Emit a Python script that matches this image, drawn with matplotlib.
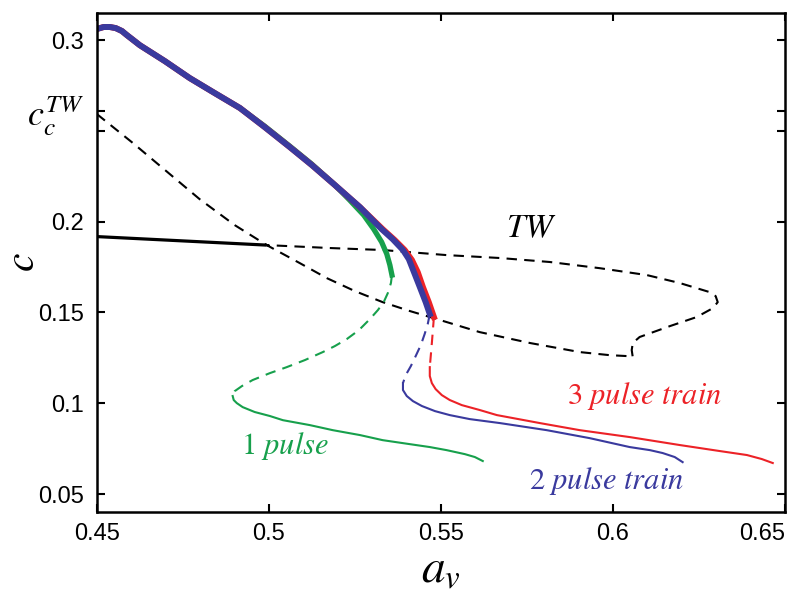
import numpy as np
import matplotlib
matplotlib.use("Agg")
import matplotlib.pyplot as plt

# ---------------------------------------------------------------
# data (a_v, c)
# ---------------------------------------------------------------

# TW branch: stable (solid) part
tw_stable_a = [0.4500, 0.4994]
tw_stable_c = [0.1918, 0.1871]

# TW branch: unstable (dashed) part, from c_c^TW round the loop and back
tw_unstable_a = [0.4500, 0.4605, 0.4799, 0.4901, 0.4994, 0.5090, 0.5169, 0.5250,
                 0.5331, 0.5410, 0.5488, 0.5613, 0.5759, 0.5904, 0.5991, 0.6041,
                 0.6058, 0.6055, 0.6058, 0.6078, 0.6166, 0.6244, 0.6291, 0.6305,
                 0.6299, 0.6282, 0.6195, 0.6099, 0.5962, 0.5817, 0.5672, 0.5517,
                 0.5331, 0.5177, 0.5052, 0.4994]
tw_unstable_c = [0.2593, 0.2433, 0.2124, 0.1981, 0.1871, 0.1772, 0.1689, 0.1618,
                 0.1557, 0.1508, 0.1464, 0.1392, 0.1332, 0.1282, 0.1265, 0.1260,
                 0.1254, 0.1293, 0.1332, 0.1365, 0.1425, 0.1475, 0.1524, 0.1557,
                 0.1590, 0.1612, 0.1662, 0.1706, 0.1744, 0.1778, 0.1800, 0.1816,
                 0.1844, 0.1855, 0.1866, 0.1871]

# shared top part of the three thick (stable) branches
top_a = [0.4500, 0.4520, 0.4538, 0.4555, 0.4573, 0.4587, 0.4602, 0.4625,
         0.4698, 0.4770, 0.4843, 0.4916]
top_c = [0.3061, 0.3072, 0.3072, 0.3066, 0.3050, 0.3028, 0.3006, 0.2972,
         0.2884, 0.2791, 0.2708, 0.2626]

# 1 pulse
p1_thick_a = top_a + [0.4988, 0.5061, 0.5125, 0.5186, 0.5235, 0.5276, 0.5305,
                      0.5328, 0.5343, 0.5352, 0.5358]
p1_thick_c = top_c + [0.2526, 0.2416, 0.2317, 0.2213, 0.2119, 0.2036, 0.1959,
                      0.1888, 0.1822, 0.1761, 0.1706]
p1_dash_a = [0.5358, 0.5355, 0.5346, 0.5334, 0.5317, 0.5294, 0.5262, 0.5227,
             0.5192, 0.5157, 0.5105, 0.5052, 0.5003, 0.4953, 0.4922, 0.4901, 0.4895]
p1_dash_c = [0.1706, 0.1662, 0.1607, 0.1557, 0.1513, 0.1464, 0.1403, 0.1354,
             0.1315, 0.1282, 0.1238, 0.1199, 0.1166, 0.1128, 0.1095, 0.1067, 0.1040]
p1_thin_a = [0.4895, 0.4898, 0.4907, 0.4924, 0.4959, 0.5003, 0.5041, 0.5119,
             0.5186, 0.5265, 0.5331, 0.5410, 0.5468, 0.5517, 0.5570, 0.5599, 0.5622]
p1_thin_c = [0.1040, 0.1018, 0.1001, 0.0979, 0.0952, 0.0930, 0.0907, 0.0880,
             0.0852, 0.0825, 0.0797, 0.0775, 0.0759, 0.0742, 0.0720, 0.0704, 0.0682]

# 2 pulse train
p2_thick_a = top_a + [0.4988, 0.5061, 0.5125, 0.5192, 0.5265, 0.5328, 0.5360,
                      0.5390, 0.5407, 0.5422, 0.5439, 0.5456, 0.5468]
p2_thick_c = top_c + [0.2521, 0.2411, 0.2312, 0.2202, 0.2080, 0.1959, 0.1904,
                      0.1844, 0.1794, 0.1722, 0.1640, 0.1557, 0.1491]
p2_dash_a = [0.5468, 0.5462, 0.5453, 0.5442, 0.5427, 0.5413, 0.5398, 0.5390]
p2_dash_c = [0.1491, 0.1436, 0.1381, 0.1321, 0.1260, 0.1205, 0.1155, 0.1111]
p2_thin_a = [0.5390, 0.5390, 0.5401, 0.5419, 0.5445, 0.5483, 0.5526, 0.5584,
             0.5672, 0.5808, 0.5933, 0.6049, 0.6108, 0.6145, 0.6180, 0.6203]
p2_thin_c = [0.1111, 0.1073, 0.1040, 0.1012, 0.0985, 0.0957, 0.0935, 0.0913,
             0.0891, 0.0852, 0.0808, 0.0759, 0.0742, 0.0726, 0.0704, 0.0676]

# 3 pulse train
p3_thick_a = top_a + [0.4988, 0.5061, 0.5125, 0.5192, 0.5265, 0.5331, 0.5366,
                      0.5395, 0.5416, 0.5433, 0.5448, 0.5465, 0.5480]
p3_thick_c = top_c + [0.2521, 0.2411, 0.2312, 0.2202, 0.2080, 0.1959, 0.1899,
                      0.1844, 0.1789, 0.1722, 0.1640, 0.1557, 0.1475]
p3_dash_a = [0.5480, 0.5477, 0.5474, 0.5471, 0.5468]
p3_dash_c = [0.1475, 0.1403, 0.1332, 0.1265, 0.1199]
p3_thin_a = [0.5468, 0.5468, 0.5474, 0.5485, 0.5503, 0.5526, 0.5561, 0.5613,
             0.5663, 0.5788, 0.5904, 0.6049, 0.6195, 0.6311, 0.6390, 0.6433, 0.6465]
p3_thin_c = [0.1199, 0.1150, 0.1111, 0.1078, 0.1045, 0.1018, 0.0990, 0.0963,
             0.0935, 0.0891, 0.0852, 0.0814, 0.0770, 0.0737, 0.0715, 0.0693, 0.0671]

# axis ticks
x_ticks = [0.45, 0.5, 0.55, 0.6, 0.65]
x_tick_labels = ['0.45', '0.5', '0.55', '0.6', '0.65']
c_c_tw = 0.261
y_ticks = [0.05, 0.1, 0.15, 0.2, 0.25, c_c_tw, 0.3]
y_tick_labels = ['0.05', '0.1', '0.15', '0.2', '', r'$c_c^{TW}$', '0.3']

GREEN = '#17a04c'
BLUE = '#3a3a9e'
RED = '#ec2227'

plt.rcParams['font.family'] = ['Liberation Sans', 'DejaVu Sans']
plt.rcParams['mathtext.fontset'] = 'stix'

fig = plt.figure(figsize=(8.0, 6.06), dpi=100)
ax = fig.add_axes([0.121, 0.155, 0.860, 0.8235])

dash = (5, 3.5)

# TW curve
ax.plot(tw_unstable_a, tw_unstable_c, color='k', lw=1.5, dashes=dash)
ax.plot(tw_stable_a, tw_stable_c, color='k', lw=2.3, solid_capstyle='butt')

# pulse curves (thick = stable upper branch, dashed = unstable, thin = lower)
ax.plot(p1_thick_a, p1_thick_c, color=GREEN, lw=3.8, solid_joinstyle='round')
ax.plot(p1_dash_a, p1_dash_c, color=GREEN, lw=1.5, dashes=dash)
ax.plot(p1_thin_a, p1_thin_c, color=GREEN, lw=1.5)

ax.plot(p3_thick_a, p3_thick_c, color=RED, lw=4.3, solid_joinstyle='round')
ax.plot(p3_dash_a, p3_dash_c, color=RED, lw=1.5, dashes=dash)
ax.plot(p3_thin_a, p3_thin_c, color=RED, lw=1.5)

ax.plot(p2_thick_a, p2_thick_c, color=BLUE, lw=4.3, solid_joinstyle='round')
ax.plot(p2_dash_a, p2_dash_c, color=BLUE, lw=1.5, dashes=dash)
ax.plot(p2_thin_a, p2_thin_c, color=BLUE, lw=1.5)

# curve labels
ax.text(0.5762, 0.1959, r'$TW$', fontsize=24, ha='center', va='center')
ax.text(0.5047, 0.0764, r'$1\ pulse$', fontsize=22, color=GREEN, ha='center', va='center')
ax.text(0.6093, 0.1040, r'$3\ pulse\ train$', fontsize=22, color=RED, ha='center', va='center')
ax.text(0.5983, 0.0572, r'$2\ pulse\ train$', fontsize=22, color=BLUE, ha='center', va='center')

ax.set_xlim(0.45, 0.65)
ax.set_ylim(0.0401, 0.3149)
ax.set_xticks(x_ticks)
ax.set_xticklabels(x_tick_labels)
ax.set_yticks(y_ticks)
ax.set_yticklabels(y_tick_labels)

ax.tick_params(direction='in', top=True, right=True, length=6, width=1.5,
               labelsize=17)
ax.tick_params(axis='y', pad=9)
ax.tick_params(axis='x', pad=8)
ax.get_yticklabels()[5].set_fontsize(26)
ax.get_xticklabels()[-1].set_horizontalalignment('right')
for sp in ax.spines.values():
    sp.set_linewidth(1.8)

ax.set_xlabel(r'$a_v$', fontsize=34, labelpad=2)
ax.set_ylabel(r'$c$', fontsize=30)
ax.yaxis.set_label_coords(-0.078, 0.5)

fig.savefig('out.png', dpi=100)
